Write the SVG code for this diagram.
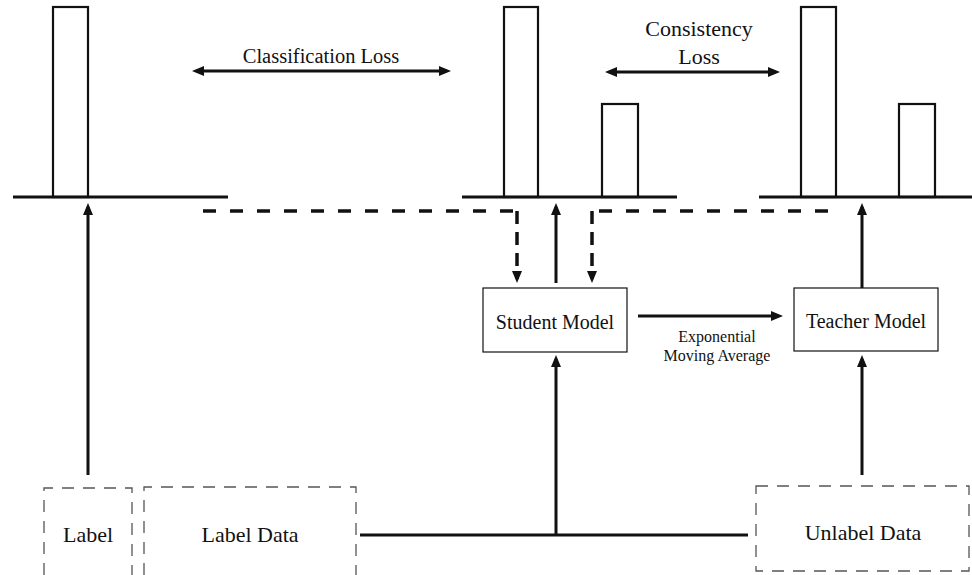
<svg xmlns="http://www.w3.org/2000/svg" width="972" height="575" viewBox="0 0 972 575">
<style>
text{font-family:"Liberation Serif","Times New Roman",serif;fill:#111;text-anchor:middle}
.bar{fill:#fff;stroke:#111;stroke-width:2.2}
.base{stroke:#111;stroke-width:3;fill:none}
.arr{stroke:#111;stroke-width:3;fill:none;marker-end:url(#ah)}
.dbl{stroke:#111;stroke-width:3;fill:none;marker-end:url(#ah);marker-start:url(#ah)}
.dash{stroke:#111;stroke-width:3.5;fill:none;stroke-dasharray:13 14}
.dasharr{stroke:#111;stroke-width:3.5;fill:none;stroke-dasharray:13 8;marker-end:url(#ah)}
.box{fill:#fff;stroke:#111;stroke-width:1.2}
.dbox{fill:none;stroke:#555;stroke-width:1.3;stroke-dasharray:12 9}
</style>
<defs>
<marker id="ah" viewBox="0 0 12 10" markerWidth="12" markerHeight="10" refX="8" refY="5" orient="auto-start-reverse" markerUnits="userSpaceOnUse">
<path d="M0,0 L12,5 L0,10 z" fill="#111"/>
</marker>
</defs>

<g id="hist-label">
<rect class="bar" x="53" y="7" width="35" height="190"/>
<line class="base" x1="13" y1="197" x2="228" y2="197"/>
</g>
<g id="hist-student">
<rect class="bar" x="504" y="7" width="34" height="190"/>
<rect class="bar" x="602" y="104" width="36" height="93"/>
<line class="base" x1="462" y1="197" x2="677" y2="197"/>
</g>
<g id="hist-teacher">
<rect class="bar" x="801" y="7" width="35" height="190"/>
<rect class="bar" x="899" y="104" width="36" height="93"/>
<line class="base" x1="759" y1="197" x2="972" y2="197"/>
</g>

<g id="classification-loss">
<text x="321" y="63" font-size="20.5">Classification Loss</text>
</g>
<g id="consistency-loss">
<text x="699" y="36" font-size="22">Consistency</text>
<text x="699" y="64" font-size="22">Loss</text>
</g>

<g id="student-model">
<rect class="box" x="483" y="288" width="144" height="64"/>
<text x="555" y="329" font-size="20">Student Model</text>
</g>
<g id="teacher-model">
<rect class="box" x="794" y="288" width="144" height="63"/>
<text x="866" y="328" font-size="20">Teacher Model</text>
</g>
<g id="ema-label">
<text x="717" y="342" font-size="16">Exponential</text>
<text x="717" y="361" font-size="16">Moving Average</text>
</g>

<g id="label">
<path class="dbox" d="M44,575 L44,488 L132,488 L132,575"/>
<text x="88" y="542" font-size="22">Label</text>
</g>
<g id="label-data">
<path class="dbox" d="M144,575 L144,487 L356,487 L356,575"/>
<text x="250" y="542" font-size="22">Label Data</text>
</g>
<g id="unlabel-data">
<rect class="dbox" x="756" y="486" width="213" height="85"/>
<text x="863" y="540" font-size="22">Unlabel Data</text>
</g>

<g id="connectors">
<line class="dbl" x1="196" y1="71" x2="447" y2="71"/>
<line class="dbl" x1="609" y1="72" x2="776" y2="72"/>
<line class="arr" x1="88" y1="475" x2="88" y2="207"/>
<line class="arr" x1="556" y1="283" x2="556" y2="207"/>
<line class="arr" x1="862" y1="288" x2="862" y2="207"/>
<path class="dash" d="M203,211 L517,211"/>
<path class="dasharr" d="M517,211 L517,279"/>
<path class="dash" d="M828,211 L592,211"/>
<path class="dasharr" d="M592,211 L592,279"/>
<line class="arr" x1="638" y1="316" x2="779" y2="316"/>
<line class="base" x1="360" y1="535" x2="748" y2="535"/>
<line class="arr" x1="556" y1="535" x2="556" y2="359"/>
<line class="arr" x1="862" y1="475" x2="862" y2="359"/>
</g>
</svg>
